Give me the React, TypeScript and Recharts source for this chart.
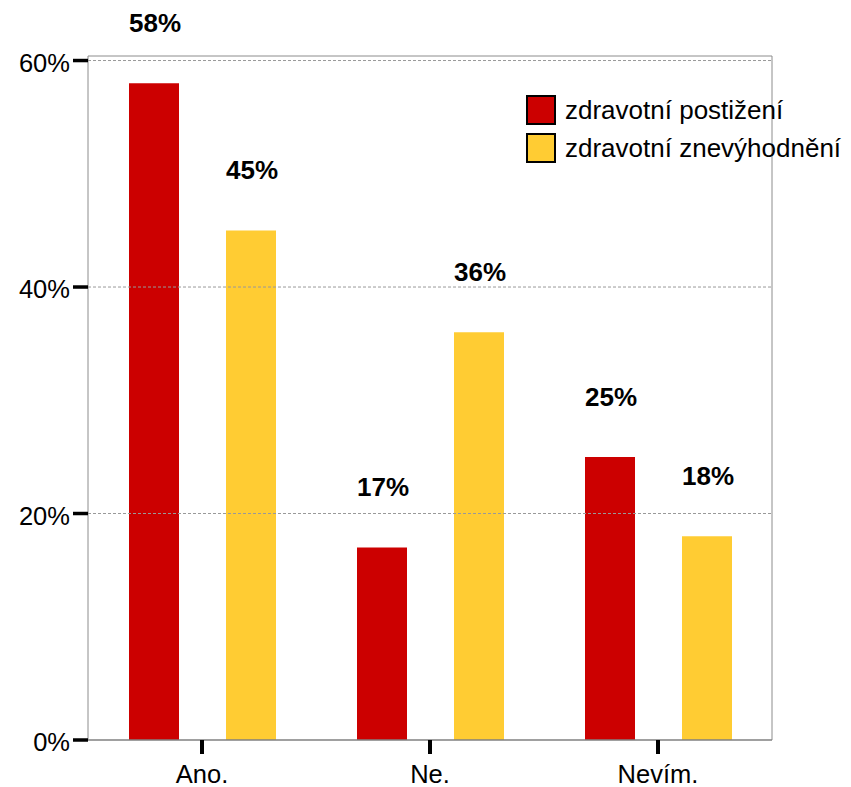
import React from 'react';
import {
  Bar,
  BarChart,
  LabelList,
  ReferenceLine,
  XAxis,
  YAxis,
} from 'recharts';

const categories = ['Ano.', 'Ne.', 'Nevím.'];
const postizeni = [58, 17, 25];
const znevyhodneni = [45, 36, 18];
const yTicks = [0, 20, 40, 60];
const gridValues = [20, 40, 60];
const Y_MAX = 60.4;

const SERIES = [
  { key: 'postizeni', name: 'zdravotní postižení', color: '#CC0000' },
  { key: 'znevyhodneni', name: 'zdravotní znevýhodnění', color: '#FFCC33' },
];

const data = categories.map((cat, i) => ({
  cat,
  postizeni: postizeni[i],
  znevyhodneni: znevyhodneni[i],
}));

const FONT = 'Arial, "Liberation Sans", Helvetica, sans-serif';
const FRAME = '#8c8c8c';

function YTick({ x, y, payload }: any) {
  return (
    <text x={x} y={y} dy={11} textAnchor="end" fill="#000" fontSize={25.5} fontFamily={FONT}>
      {payload.value}%
    </text>
  );
}

function TopLabel({ x, y, width, value }: any) {
  return (
    <text
      x={x + width / 2 + 1}
      y={y - 51}
      textAnchor="middle"
      fill="#000"
      fontSize={26}
      fontWeight="bold"
      fontFamily={FONT}
    >
      {value}%
    </text>
  );
}

// legend sits inside the plot, so keep it out of Recharts' layout
function LegendBox() {
  return (
    <div
      style={{
        position: 'absolute',
        top: 91,
        left: 526,
        fontFamily: FONT,
        fontSize: 26,
        color: '#000',
        whiteSpace: 'nowrap',
      }}
    >
      {SERIES.map((s) => (
        <div key={s.key} style={{ display: 'flex', alignItems: 'center', height: 38 }}>
          <span
            style={{
              width: 26,
              height: 26,
              background: s.color,
              border: '2px solid #000',
              marginRight: 9,
              display: 'inline-block',
            }}
          />
          <span>{s.name}</span>
        </div>
      ))}
    </div>
  );
}

export default function App() {
  return (
    <div style={{ position: 'absolute', left: 0, top: 0, width: 851, height: 787, background: '#fff' }}>
      <BarChart
        width={851}
        height={787}
        data={data}
        margin={{ top: 56, right: 79, left: 0, bottom: 0 }}
        barSize={50}
        barGap={47}
      >
        <XAxis
          dataKey="cat"
          height={47}
          axisLine={{ stroke: '#808080', strokeWidth: 1.5 }}
          tickLine={{ stroke: '#000', strokeWidth: 4 }}
          tickSize={14}
          tickMargin={11}
          tick={{ fill: '#000', fontSize: 25.5, fontFamily: FONT }}
        />
        <YAxis
          width={88}
          domain={[0, Y_MAX]}
          ticks={yTicks}
          allowDataOverflow
          axisLine={{ stroke: FRAME }}
          tickLine={{ stroke: '#000', strokeWidth: 3.5 }}
          tickSize={15}
          tickMargin={3}
          tick={<YTick />}
        />
        {gridValues.map((v) => (
          <ReferenceLine key={v} y={v} stroke="#999" strokeDasharray="3 2" />
        ))}
        {/* plot frame: top and right edges */}
        <ReferenceLine y={Y_MAX} stroke={FRAME} ifOverflow="visible" />
        <ReferenceLine x={categories[categories.length - 1]} position="end" stroke={FRAME} ifOverflow="visible" />
        {SERIES.map((s) => (
          <Bar key={s.key} dataKey={s.key} name={s.name} fill={s.color} isAnimationActive={false}>
            <LabelList dataKey={s.key} content={<TopLabel />} />
          </Bar>
        ))}
      </BarChart>
      <LegendBox />
    </div>
  );
}
